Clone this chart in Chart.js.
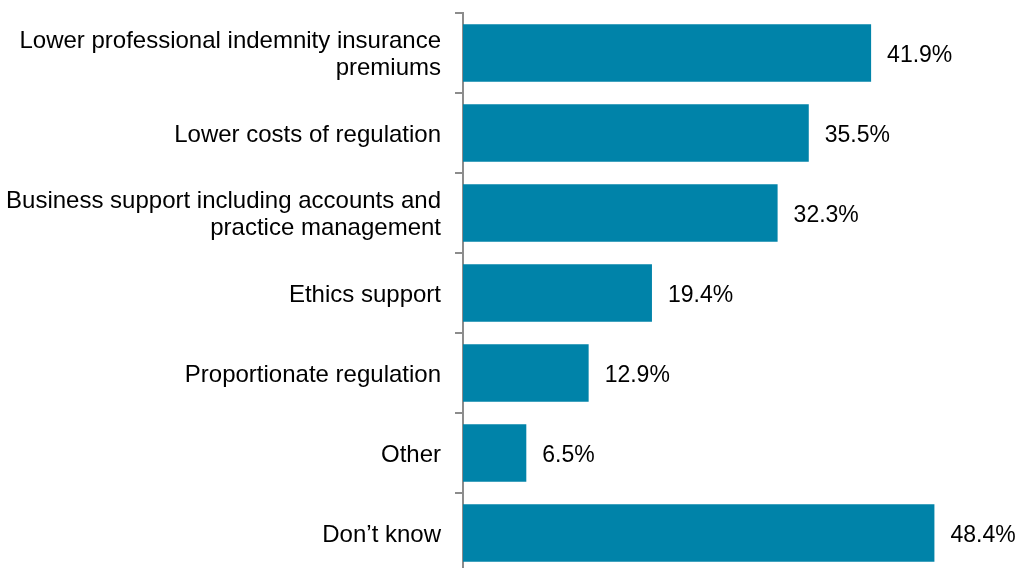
<!DOCTYPE html>
<html>
<head>
<meta charset="utf-8">
<script src="https://cdn.jsdelivr.net/npm/chart.js@4/dist/chart.umd.min.js"></script>
<style>
    html, body { margin: 0; padding: 0; background: #fff; overflow: hidden; }
    #bar-chart { display: block; }
</style>
</head>
<body>
<canvas id="bar-chart" width="1018" height="575"></canvas>
<script>
/** Categories and shares (%) for the horizontal bar chart. */
const categories = [
    ["Lower professional indemnity insurance", "premiums"],
    "Lower costs of regulation",
    ["Business support including accounts and", "practice management"],
    "Ethics support",
    "Proportionate regulation",
    "Other",
    "Don\u2019t know",
];
const shares = [41.9, 35.5, 32.3, 19.4, 12.9, 6.5, 48.4];

const barColor = "#0083a9";
const axisColor = "#8c8c8c";
const fontFamily = "'Liberation Sans', Arial, sans-serif";

// writes the "xx.x%" text just past the end of each bar
const valueLabels = {
    id: "valueLabels",
    afterDatasetsDraw(chart) {
        const ctx = chart.ctx;
        const meta = chart.getDatasetMeta(0);
        ctx.save();
        ctx.font = "23px " + fontFamily;
        ctx.fillStyle = "#000";
        ctx.textAlign = "left";
        ctx.textBaseline = "middle";
        meta.data.forEach((bar, i) => {
            ctx.fillText(shares[i].toFixed(1) + "%", bar.x + 16, bar.y + 2.5);
        });
        ctx.restore();
    }
};

const ctx = document.getElementById("bar-chart").getContext("2d");
const barChart = new Chart(ctx, {
    type: "bar",
    data: {
        labels: categories,
        datasets: [{
            data: shares,
            backgroundColor: barColor,
            borderWidth: 0,
            barPercentage: 0.72,
            categoryPercentage: 1,
        }],
    },
    options: {
        indexAxis: "y",
        responsive: false,
        animation: false,
        layout: {
            padding: { top: 13, right: 68, bottom: 2, left: 0 },
        },
        plugins: {
            legend: { display: false },
            tooltip: { enabled: false },
        },
        scales: {
            x: {
                display: false,
                min: 0,
                max: 50,
            },
            y: {
                // fixed axis width, and no extra room for half-labels at the ends
                afterFit: (scale) => {
                    scale.width = 463;
                    scale.paddingTop = 0;
                    scale.paddingBottom = 0;
                },
                border: { display: true, color: axisColor, width: 2 },
                grid: {
                    offset: true,
                    drawOnChartArea: false,
                    drawTicks: true,
                    tickLength: 8,
                    color: axisColor,
                    lineWidth: 2,
                },
                ticks: {
                    padding: 14,
                    labelOffset: 2,
                    color: "#000",
                    font: { family: fontFamily, size: 24, lineHeight: 1.1 },
                },
            },
        },
    },
    plugins: [valueLabels],
});
</script>
</body>
</html>
